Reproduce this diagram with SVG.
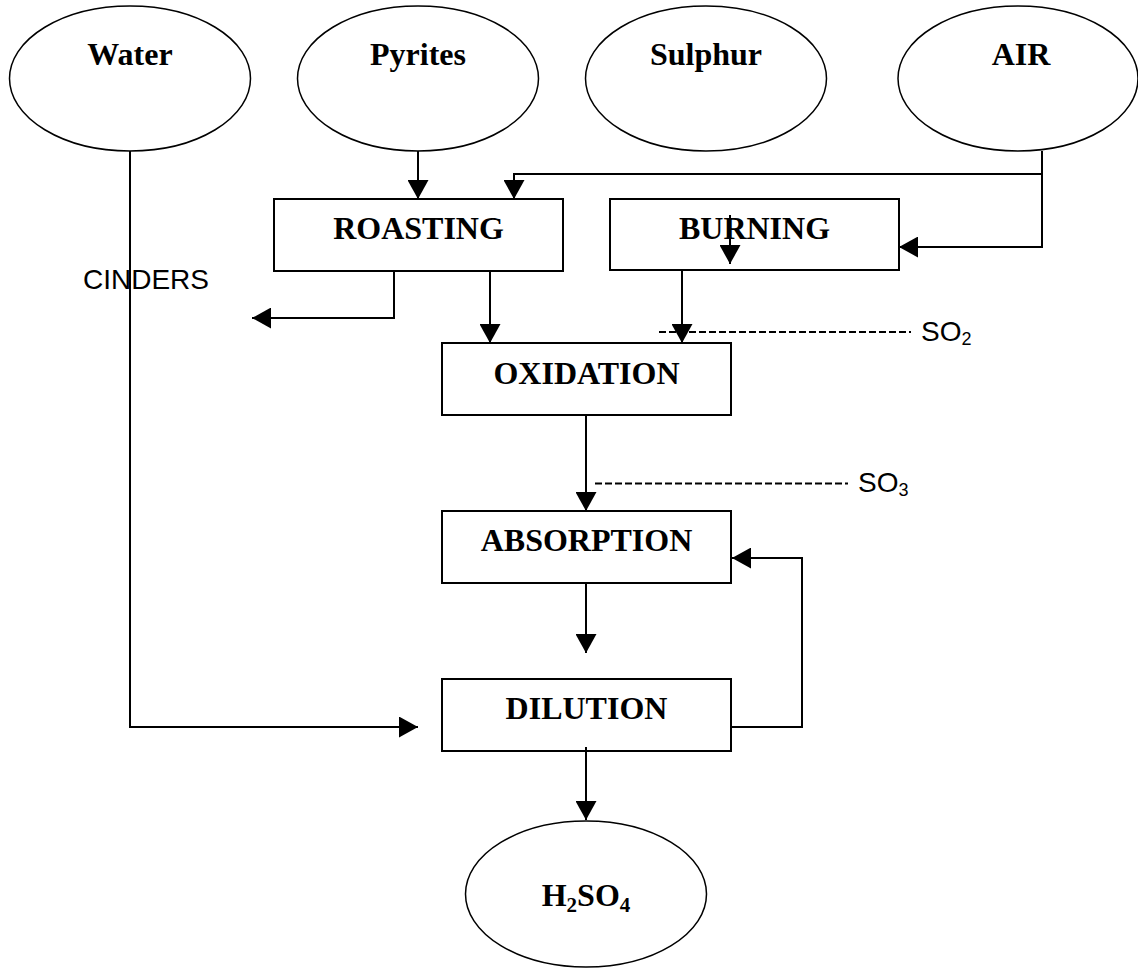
<svg xmlns="http://www.w3.org/2000/svg" width="1138" height="969" viewBox="0 0 1138 969">
<style>
.node{fill:#fff;stroke:#000;stroke-width:1.5}
.box{fill:#fff;stroke:#000;stroke-width:2}
.t{font-family:"Liberation Serif","Times New Roman",serif;font-weight:bold;font-size:32px;fill:#000;text-anchor:middle}
.l{font-family:"Liberation Sans",Arial,sans-serif;font-size:28px;fill:#000}
.c{fill:none;stroke:#000;stroke-width:2}
.d{fill:none;stroke:#000;stroke-width:2;stroke-dasharray:7 3}
</style>
<defs>
<marker id="ah" markerUnits="userSpaceOnUse" markerWidth="19" markerHeight="21" viewBox="0 0 19 21" refX="19" refY="10.5" orient="auto">
<path d="M0,0 L19,10.5 L0,21 z" fill="#000"/>
</marker>
</defs>
<rect width="1138" height="969" fill="#fff"/>
<g id="water"><ellipse class="node" cx="130" cy="78.5" rx="120.5" ry="72.5"/><text class="t" x="130" y="65">Water</text></g>
<g id="pyrites"><ellipse class="node" cx="418" cy="78.5" rx="120.5" ry="72.5"/><text class="t" x="418" y="65">Pyrites</text></g>
<g id="sulphur"><ellipse class="node" cx="706" cy="78.5" rx="120.5" ry="72.5"/><text class="t" x="706" y="65">Sulphur</text></g>
<g id="air"><ellipse class="node" cx="1018" cy="78.5" rx="120" ry="72.5"/><text class="t" x="1021" y="65">AIR</text></g>
<g id="roasting"><rect class="box" x="274" y="199" width="289" height="72"/><text class="t" x="418.5" y="238.5">ROASTING</text></g>
<g id="burning"><rect class="box" x="610" y="199" width="289" height="71"/><text class="t" x="754.5" y="238.5">BURNING</text></g>
<g id="oxidation"><rect class="box" x="442" y="343" width="289" height="72"/><text class="t" x="586.5" y="383.5">OXIDATION</text></g>
<g id="absorption"><rect class="box" x="442" y="511" width="289" height="72"/><text class="t" x="586.5" y="551">ABSORPTION</text></g>
<g id="dilution"><rect class="box" x="442" y="679" width="289" height="72"/><text class="t" x="586.5" y="719">DILUTION</text></g>
<g id="h2so4"><ellipse class="node" cx="586" cy="894" rx="120.5" ry="73"/><text class="t" x="586" y="906">H<tspan font-size="21" dy="6">2</tspan><tspan dy="-6">SO</tspan><tspan font-size="21" dy="6">4</tspan></text></g>
<g id="connectors">
<path class="c" d="M418,151 V199" marker-end="url(#ah)"/>
<path class="c" d="M1042,151 V174 H514 V199" marker-end="url(#ah)"/>
<path class="c" d="M1042,174 V247 H899" marker-end="url(#ah)"/>
<path class="c" d="M730,215 V264" marker-end="url(#ah)"/>
<path class="c" d="M682,270 V343" marker-end="url(#ah)"/>
<path class="c" d="M490,271 V343" marker-end="url(#ah)"/>
<path class="c" d="M394,271 V318 H252" marker-end="url(#ah)"/>
<path class="c" d="M586,415 V511" marker-end="url(#ah)"/>
<path class="c" d="M586,583 V653" marker-end="url(#ah)"/>
<path class="c" d="M586,747 V820" marker-end="url(#ah)"/>
<path class="c" d="M731,727 H802 V558 H732" marker-end="url(#ah)"/>
<path class="c" d="M130,151 V727 H418" marker-end="url(#ah)"/>
<path class="d" d="M659,332 H911"/>
<path class="d" d="M595,483.5 H848"/>
</g>
<g id="labels">
<text class="l" x="83" y="289">CINDERS</text>
<text class="l" x="921" y="341">SO<tspan font-size="18" dy="4">2</tspan></text>
<text class="l" x="858" y="492">SO<tspan font-size="18" dy="4">3</tspan></text>
</g>
</svg>
